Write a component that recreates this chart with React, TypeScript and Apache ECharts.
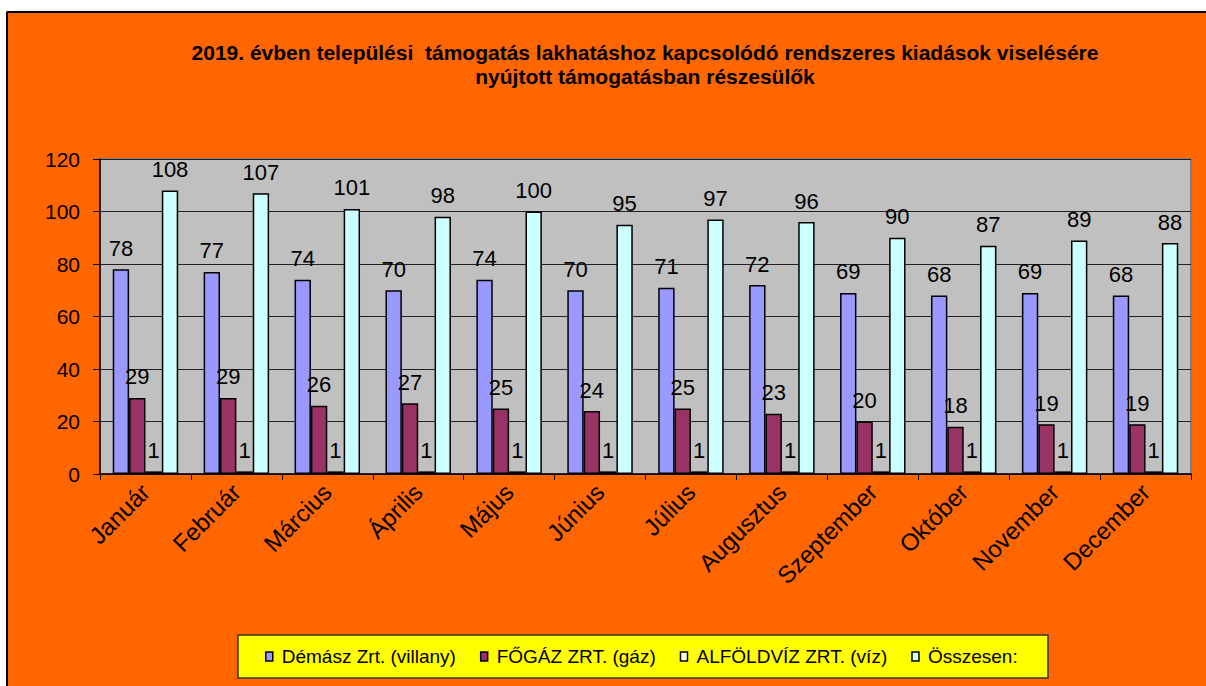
import React, { useEffect, useRef } from "react";
import * as echarts from "echarts";

const months = ["Január", "Február", "Március", "Április", "Május", "Június", "Július", "Augusztus", "Szeptember", "Október", "November", "December"];
const demasz = [78, 77, 74, 70, 74, 70, 71, 72, 69, 68, 69, 68];
const fogaz = [29, 29, 26, 27, 25, 24, 25, 23, 20, 18, 19, 19];
const alfoldviz = [1, 1, 1, 1, 1, 1, 1, 1, 1, 1, 1, 1];
const osszesen = [108, 107, 101, 98, 100, 95, 97, 96, 90, 87, 89, 88];
const seriesNames = ["Démász Zrt. (villany)", "FŐGÁZ ZRT. (gáz)", "ALFÖLDVÍZ ZRT. (víz)", "Összesen:"];
const seriesColors = ["#9999FF", "#993366", "#FFFFCC", "#CCFFFF"];
const titleText = "2019. évben települési  támogatás lakhatáshoz kapcsolódó rendszeres kiadások viselésére\nnyújtott támogatásban részesülők";

export default function App() {
  const ref = useRef<HTMLDivElement>(null);
  useEffect(() => {
    if (!ref.current) return;
    const chart = echarts.init(ref.current, null, { renderer: "svg" });
    const data = [demasz, fogaz, alfoldviz, osszesen];
    chart.setOption({
      animation: false,
      backgroundColor: "#FF6600",
      textStyle: { fontFamily: "Arial, 'Liberation Sans', sans-serif" },
      graphic: [
        { type: "rect", shape: { x: 0, y: 0, width: 1206, height: 11 }, style: { fill: "#fff" }, silent: true },
        { type: "rect", shape: { x: 0, y: 0, width: 6, height: 686 }, style: { fill: "#fff" }, silent: true },
        { type: "line", shape: { x1: 7, y1: 12, x2: 1206, y2: 12 }, style: { stroke: "#000", lineWidth: 2 }, silent: true },
        { type: "line", shape: { x1: 7, y1: 12, x2: 7, y2: 686 }, style: { stroke: "#000", lineWidth: 2 }, silent: true },
        {
          type: "text",
          x: 645,
          y: 40,
          style: {
            text: titleText,
            textAlign: "center",
            textVerticalAlign: "top",
            fontSize: 21,
            fontWeight: "bold",
            fontFamily: "Arial, 'Liberation Sans', sans-serif",
            lineHeight: 24,
            fill: "#000",
          },
          silent: true,
        },
        {
          type: "rect",
          z: -1,
          shape: { x: 238, y: 635, width: 810, height: 43 },
          style: { fill: "#FFFF00", stroke: "#333", lineWidth: 1.5 },
          silent: true,
        },
      ],
      grid: {
        left: 100,
        right: 15,
        top: 159,
        bottom: 212,
        show: true,
        backgroundColor: "#C0C0C0",
        borderColor: "#808080",
        borderWidth: 2,
      },
      legend: {
        z: 10,
        left: 260,
        top: 642,
        itemWidth: 7,
        itemHeight: 9,
        itemGap: 24,
        icon: "rect",
        itemStyle: { borderColor: "#000", borderWidth: 1.5 },
        textStyle: { fontSize: 19, color: "#000", padding: [0, 0, 0, 4] },
        data: seriesNames,
      },
      xAxis: {
        type: "category",
        data: months,
        axisLine: { lineStyle: { color: "#000", width: 1.5 } },
        axisTick: { show: true, length: 6, lineStyle: { color: "#000" } },
        axisLabel: { rotate: 45, fontSize: 24, color: "#000", margin: 14, interval: 0 },
      },
      yAxis: {
        type: "value",
        min: 0,
        max: 120,
        interval: 20,
        axisLine: { show: true, lineStyle: { color: "#000", width: 1.5 } },
        axisTick: { show: true, length: 7, lineStyle: { color: "#000" } },
        axisLabel: { fontSize: 21, color: "#000", margin: 20 },
        splitLine: { lineStyle: { color: "#222", width: 1 } },
      },
      series: seriesNames.map((name, i) => ({
        name,
        type: "bar",
        data: data[i],
        barGap: "0%",
        barCategoryGap: "28%",
        itemStyle: { color: seriesColors[i], borderColor: "#000", borderWidth: 1.5 },
        label: { show: true, position: "top", distance: 10, fontSize: 22, color: "#000" },
      })),
    });
    return () => chart.dispose();
  }, []);
  return <div ref={ref} style={{ position: "absolute", left: 0, top: 0, width: 1206, height: 686 }} />;
}
